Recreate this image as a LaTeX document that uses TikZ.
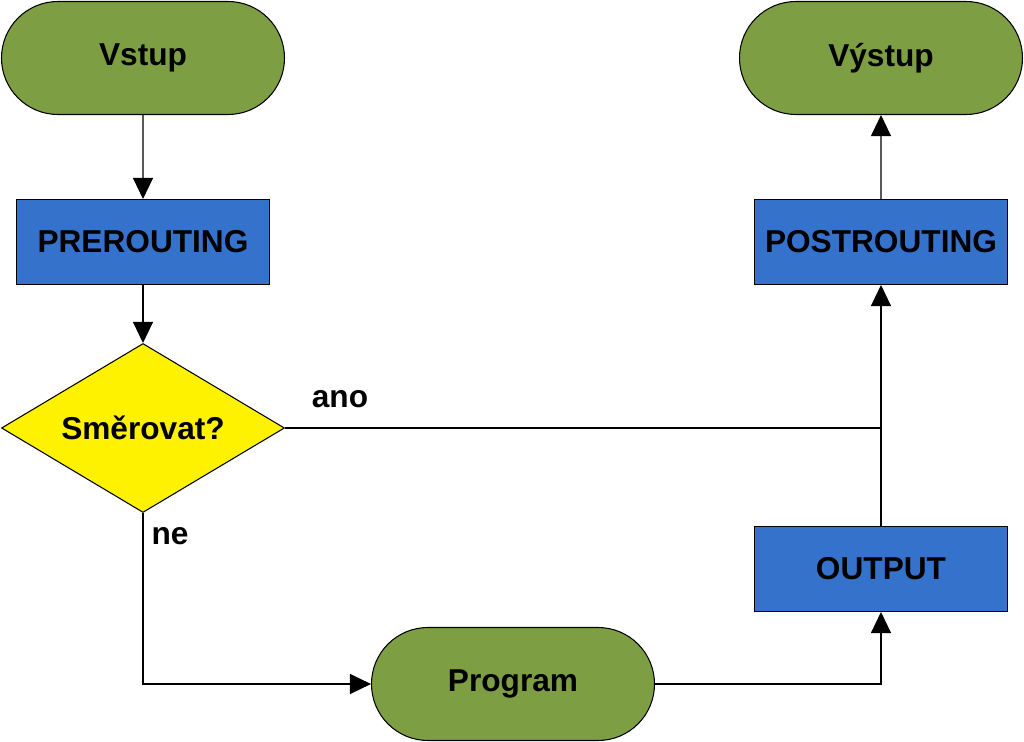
\documentclass[tikz,border=0pt]{standalone}
\usepackage{fontspec}
\setmainfont{Liberation Sans}
\usepackage{xcolor}
\usetikzlibrary{arrows.meta,positioning,shapes.geometric,shapes.misc}

\definecolor{termgreen}{RGB}{126,158,68}
\definecolor{procblue}{RGB}{53,114,204}

\begin{document}
\begin{tikzpicture}[
  font=\fontsize{18}{21}\selectfont\bfseries,
  line width=0.6pt,
  >={Triangle[length=0.42cm,width=0.4cm]},
  termbox/.style={draw, rounded rectangle, fill=termgreen, minimum width=5.66cm, minimum height=2.26cm, inner sep=0pt},
  procbox/.style={draw, rectangle, fill=procblue, minimum width=5.06cm, minimum height=1.7cm, inner sep=0pt},
  decbox/.style={draw, diamond, fill=yellow, minimum width=5.66cm, minimum height=3.38cm, inner sep=0pt}
]
\useasboundingbox (0,0) rectangle (20.48,-14.84);

% left column
\node[termbox] (vstup) at (2.86,-1.16) {Vstup};
\node[procbox] (prerouting) at (2.86,-4.84) {PREROUTING};
\node[decbox, label=center:{Směrovat?}] (smerovat) at (2.86,-8.56) {};

% bottom and right column
\node[termbox] (program) at (10.26,-13.68) {Program};
\node[procbox] (output) at (17.62,-11.38) {OUTPUT};
\node[procbox] (postrouting) at (17.62,-4.84) {POSTROUTING};
\node[termbox] (vystup) at (17.62,-1.16) {Výstup};

\coordinate (merge) at (postrouting |- smerovat);

\draw[->] (vstup) -- (prerouting);
\draw[->] (prerouting) -- (smerovat);
\draw (smerovat.east) -- (merge);
\draw[->] (smerovat.south) |- (program.west);
\draw[->] (program.east) -| (output.south);
\draw[->] (output.north) -- (postrouting.south);
\draw[->] (postrouting) -- (vystup);

\node (ano) at (6.8,-7.98) {ano};
\node (ne) at (3.4,-10.72) {ne};
\end{tikzpicture}
\end{document}
